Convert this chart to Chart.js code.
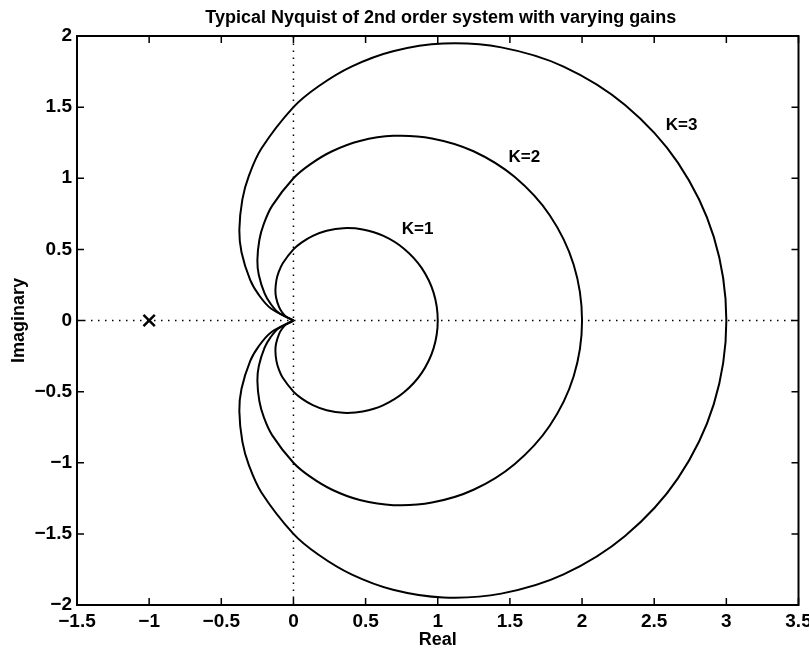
<!DOCTYPE html>
<html>
<head>
<meta charset="utf-8">
<script src="https://cdn.jsdelivr.net/npm/chart.js@4.4.0/dist/chart.umd.min.js"></script>
<style>
  body { margin: 0; background: #fff; }
  #wrap { width: 809px; height: 654px; position: relative; }
</style>
</head>
<body>
<div id="wrap"><canvas id="nyquist"></canvas></div>
<script>
// Nyquist curves (real / imaginary), one loop per gain
const k1Re = [0, -0.052, -0.08, -0.1, -0.12, -0.125, -0.118, -0.103, -0.074, 0, 0.058, 0.134, 0.23, 0.346, 0.48, 0.624, 0.766, 0.888, 0.971, 1,
              0.971, 0.888, 0.766, 0.624, 0.48, 0.346, 0.23, 0.134, 0.058, 0, -0.074, -0.103, -0.118, -0.125, -0.12, -0.1, -0.08, -0.052, 0];
const k1Im = [0, 0.028, 0.06, 0.095, 0.16, 0.212, 0.284, 0.339, 0.403, 0.5, 0.549, 0.595, 0.631, 0.649, 0.64, 0.595, 0.505, 0.37, 0.196, 0,
              -0.196, -0.37, -0.505, -0.595, -0.64, -0.649, -0.631, -0.595, -0.549, -0.5, -0.403, -0.339, -0.284, -0.212, -0.16, -0.095, -0.06, -0.028, 0];

const k2Re = [0, -0.104, -0.16, -0.2, -0.24, -0.25, -0.236, -0.206, -0.148, 0, 0.116, 0.268, 0.46, 0.692, 0.96, 1.248, 1.532, 1.776, 1.942, 2,
              1.942, 1.776, 1.532, 1.248, 0.96, 0.692, 0.46, 0.268, 0.116, 0, -0.148, -0.206, -0.236, -0.25, -0.24, -0.2, -0.16, -0.104, 0];
const k2Im = [0, 0.056, 0.12, 0.19, 0.32, 0.424, 0.568, 0.678, 0.806, 1, 1.098, 1.19, 1.262, 1.298, 1.28, 1.19, 1.01, 0.74, 0.392, 0,
              -0.392, -0.74, -1.01, -1.19, -1.28, -1.298, -1.262, -1.19, -1.098, -1, -0.806, -0.678, -0.568, -0.424, -0.32, -0.19, -0.12, -0.056, 0];

const k3Re = [0, -0.156, -0.24, -0.3, -0.36, -0.375, -0.354, -0.309, -0.222, 0, 0.174, 0.402, 0.69, 1.038, 1.44, 1.872, 2.298, 2.664, 2.913, 3,
              2.913, 2.664, 2.298, 1.872, 1.44, 1.038, 0.69, 0.402, 0.174, 0, -0.222, -0.309, -0.354, -0.375, -0.36, -0.3, -0.24, -0.156, 0];
const k3Im = [0, 0.084, 0.18, 0.285, 0.48, 0.636, 0.852, 1.017, 1.209, 1.5, 1.647, 1.785, 1.893, 1.947, 1.92, 1.785, 1.515, 1.11, 0.588, 0,
              -0.588, -1.11, -1.515, -1.785, -1.92, -1.947, -1.893, -1.785, -1.647, -1.5, -1.209, -1.017, -0.852, -0.636, -0.48, -0.285, -0.18, -0.084, 0];

// the -1 point and the dotted axes through the origin
const critRe = [-1];
const critIm = [0];
const realAxisRe = [-1.5, 3.5];
const realAxisIm = [0, 0];
const imagAxisRe = [0, 0];
const imagAxisIm = [-2, 2];

const curveLabels = ['K=1', 'K=2', 'K=3'];
const labelRe = [0.86, 1.6, 2.69];
const labelIm = [0.64, 1.15, 1.37];

const xTickValues = [-1.5, -1, -0.5, 0, 0.5, 1, 1.5, 2, 2.5, 3, 3.5];
const yTickValues = [-2, -1.5, -1, -0.5, 0, 0.5, 1, 1.5, 2];

const titleText = 'Typical Nyquist of 2nd order system with varying gains';

const toPoints = (re, im) => re.map((v, i) => ({ x: v, y: im[i] }));
const fmt = v => String(v).replace('-', '\u2212');

Chart.defaults.font.family = '"Liberation Sans", Arial, Helvetica, sans-serif';
Chart.defaults.color = '#000';

// box round the plot, inward ticks on all four sides, title and K labels
const frameTicks = {
    id: 'frameTicks',
    afterDraw(chart) {
        const { ctx, chartArea: a, scales: { x, y } } = chart;
        ctx.save();
        ctx.strokeStyle = '#000';
        ctx.lineWidth = 1.5;
        ctx.beginPath();
        xTickValues.forEach(v => {
            const px = x.getPixelForValue(v);
            ctx.moveTo(px, a.bottom); ctx.lineTo(px, a.bottom - 7);
            ctx.moveTo(px, a.top); ctx.lineTo(px, a.top + 7);
        });
        yTickValues.forEach(v => {
            const py = y.getPixelForValue(v);
            ctx.moveTo(a.left, py); ctx.lineTo(a.left + 7, py);
            ctx.moveTo(a.right, py); ctx.lineTo(a.right - 7, py);
        });
        ctx.stroke();
        ctx.lineWidth = 2;
        ctx.strokeRect(a.left, a.top, a.right - a.left, a.bottom - a.top);

        ctx.fillStyle = '#000';
        ctx.textAlign = 'center';
        ctx.textBaseline = 'alphabetic';
        ctx.font = 'bold 18px "Liberation Sans", Arial, sans-serif';
        ctx.fillText(titleText, (a.left + a.right) / 2 + 3, 23);

        ctx.textBaseline = 'middle';
        ctx.font = 'bold 17px "Liberation Sans", Arial, sans-serif';
        curveLabels.forEach((t, i) => {
            ctx.fillText(t, x.getPixelForValue(labelRe[i]), y.getPixelForValue(labelIm[i]));
        });
        ctx.restore();
    }
};

const curve = (pts) => ({
    data: pts,
    showLine: true,
    borderColor: '#000',
    borderWidth: 2,
    pointRadius: 0,
    tension: 0.35,
    fill: false,
    order: 1
});

const dotted = (pts) => ({
    data: pts,
    showLine: true,
    borderColor: '#000',
    borderWidth: 1.5,
    borderDash: [1.5, 5.5],
    pointRadius: 0,
    tension: 0,
    fill: false,
    order: 3
});

new Chart(document.getElementById('nyquist'), {
    type: 'scatter',
    data: {
        datasets: [
            curve(toPoints(k1Re, k1Im)),
            curve(toPoints(k2Re, k2Im)),
            curve(toPoints(k3Re, k3Im)),
            dotted(toPoints(realAxisRe, realAxisIm)),
            dotted(toPoints(imagAxisRe, imagAxisIm)),
            {
                data: toPoints(critRe, critIm),
                pointStyle: 'crossRot',
                pointRadius: 8,
                borderColor: '#000',
                borderWidth: 2.5,
                order: 0
            }
        ]
    },
    options: {
        responsive: true,
        maintainAspectRatio: false,
        animation: false,
        layout: { padding: { top: 36, right: 9, bottom: 0, left: 0 } },
        plugins: {
            legend: { display: false },
            tooltip: { enabled: false },
            title: { display: false }
        },
        scales: {
            x: {
                type: 'linear',
                min: -1.5,
                max: 3.5,
                grid: { display: false },
                border: { display: false },
                afterBuildTicks: s => { s.ticks = xTickValues.map(v => ({ value: v })); },
                afterFit: s => { s.height = 49; s.paddingLeft = 0; s.paddingRight = 0; },
                ticks: {
                    padding: -3,
                    maxRotation: 0,
                    font: { size: 19, weight: 'bold' },
                    callback: v => fmt(v)
                },
                title: {
                    display: true,
                    text: 'Real',
                    font: { size: 18, weight: 'bold' },
                    padding: { top: 0, bottom: 3 }
                }
            },
            y: {
                type: 'linear',
                min: -2,
                max: 2,
                grid: { display: false },
                border: { display: false },
                afterBuildTicks: s => { s.ticks = yTickValues.map(v => ({ value: v })); },
                afterFit: s => { s.width = 77; s.paddingTop = 0; s.paddingBottom = 0; },
                ticks: {
                    padding: -3,
                    font: { size: 19, weight: 'bold' },
                    callback: v => fmt(v)
                },
                title: {
                    display: true,
                    text: 'Imaginary',
                    font: { size: 18, weight: 'bold' },
                    padding: { top: 8, bottom: 0 }
                }
            }
        }
    },
    plugins: [frameTicks]
});
</script>
</body>
</html>
